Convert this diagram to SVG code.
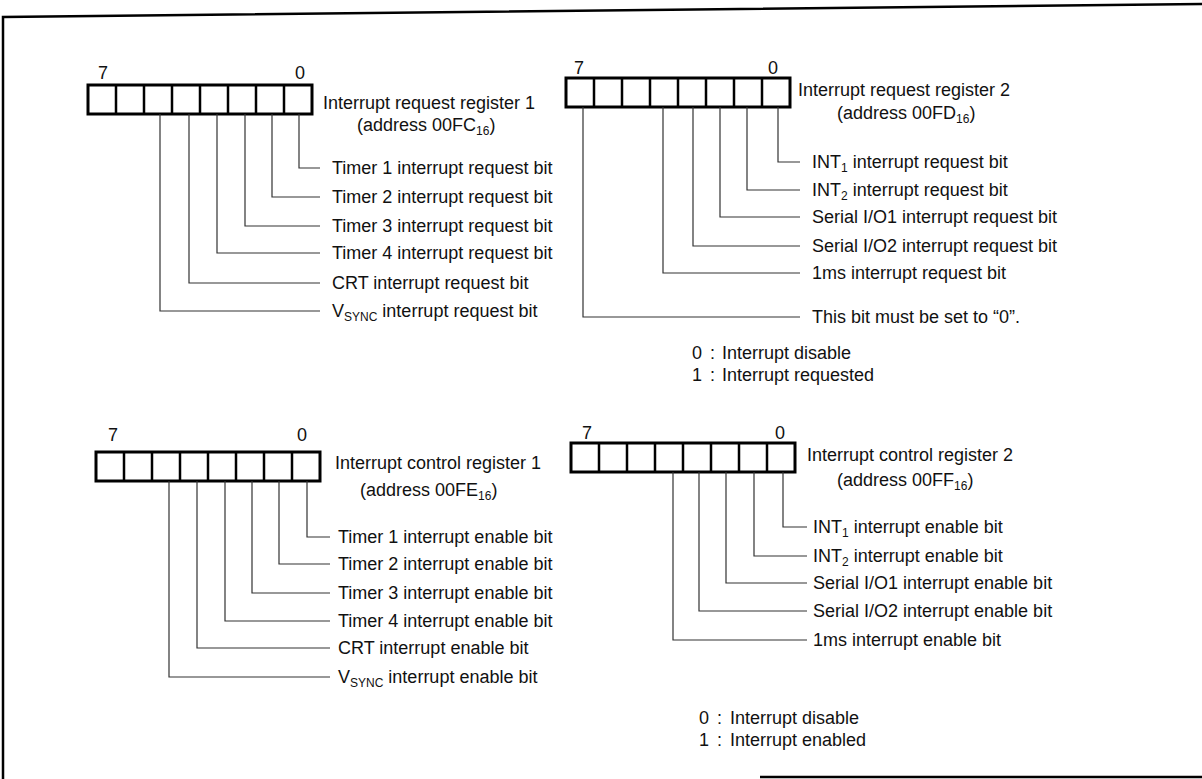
<svg xmlns="http://www.w3.org/2000/svg" width="1202" height="779" viewBox="0 0 1202 779">
<style>
text{font-family:"Liberation Sans",Arial,Helvetica,sans-serif;font-size:18px;fill:#111}
.box{fill:#fff;stroke:#000;stroke-width:3}
.div{stroke:#000;stroke-width:2.5}
.con{fill:none;stroke:#333;stroke-width:1.2}
.frame{fill:none;stroke:#000;stroke-width:2.5}
.mid{text-anchor:middle}
</style>
<defs>
<g id="cells">
<rect class="box" x="0" y="0" width="224" height="29"/>
<path class="div" d="M28,0V29M56,0V29M84,0V29M112,0V29M140,0V29M168,0V29M196,0V29"/>
</g>
</defs>
<g id="frame">
<path class="frame" d="M3,779V17L1202,4"/>
<path class="frame" d="M760,777H1202"/>
</g>

<g id="reg1">
<use href="#cells" x="88" y="85"/>
<text class="mid" x="103" y="79">7</text>
<text class="mid" x="300" y="79">0</text>
<text x="323" y="109">Interrupt request register 1</text>
<text x="357" y="131">(address 00FC<tspan font-size="12" dy="4">16</tspan><tspan dy="-4">)</tspan></text>
<text x="332" y="174">Timer 1 interrupt request bit</text>
<text x="332" y="203">Timer 2 interrupt request bit</text>
<text x="332" y="232">Timer 3 interrupt request bit</text>
<text x="332" y="259">Timer 4 interrupt request bit</text>
<text x="332" y="289">CRT interrupt request bit</text>
<text x="332" y="317">V<tspan font-size="12" dy="4">SYNC</tspan><tspan dy="-4"> interrupt request bit</tspan></text>
</g>

<g id="reg2">
<use href="#cells" x="566" y="78"/>
<text class="mid" x="579" y="74">7</text>
<text class="mid" x="773" y="74">0</text>
<text x="798" y="96">Interrupt request register 2</text>
<text x="837" y="119">(address 00FD<tspan font-size="12" dy="4">16</tspan><tspan dy="-4">)</tspan></text>
<text x="812" y="168">INT<tspan font-size="12" dy="4">1</tspan><tspan dy="-4"> interrupt request bit</tspan></text>
<text x="812" y="196">INT<tspan font-size="12" dy="4">2</tspan><tspan dy="-4"> interrupt request bit</tspan></text>
<text x="812" y="223">Serial I/O1 interrupt request bit</text>
<text x="812" y="252">Serial I/O2 interrupt request bit</text>
<text x="812" y="279">1ms interrupt request bit</text>
<text x="812" y="323">This bit must be set to “0”.</text>
<text x="692" y="359">0</text><text x="710" y="359">:</text><text x="722" y="359">Interrupt disable</text>
<text x="692" y="381">1</text><text x="710" y="381">:</text><text x="722" y="381">Interrupt requested</text>
</g>

<g id="reg3">
<use href="#cells" x="96" y="452"/>
<text class="mid" x="113" y="441">7</text>
<text class="mid" x="302" y="441">0</text>
<text x="335" y="469">Interrupt control register 1</text>
<text x="360" y="496">(address 00FE<tspan font-size="12" dy="4">16</tspan><tspan dy="-4">)</tspan></text>
<text x="338" y="543">Timer 1 interrupt enable bit</text>
<text x="338" y="570">Timer 2 interrupt enable bit</text>
<text x="338" y="599">Timer 3 interrupt enable bit</text>
<text x="338" y="627">Timer 4 interrupt enable bit</text>
<text x="338" y="654">CRT interrupt enable bit</text>
<text x="338" y="683">V<tspan font-size="12" dy="4">SYNC</tspan><tspan dy="-4"> interrupt enable bit</tspan></text>
</g>

<g id="reg4">
<use href="#cells" x="571" y="443"/>
<text class="mid" x="587" y="439">7</text>
<text class="mid" x="780" y="439">0</text>
<text x="807" y="461">Interrupt control register 2</text>
<text x="837" y="486">(address 00FF<tspan font-size="12" dy="4">16</tspan><tspan dy="-4">)</tspan></text>
<text x="813" y="533">INT<tspan font-size="12" dy="4">1</tspan><tspan dy="-4"> interrupt enable bit</tspan></text>
<text x="813" y="562">INT<tspan font-size="12" dy="4">2</tspan><tspan dy="-4"> interrupt enable bit</tspan></text>
<text x="813" y="589">Serial I/O1 interrupt enable bit</text>
<text x="813" y="617">Serial I/O2 interrupt enable bit</text>
<text x="813" y="646">1ms interrupt enable bit</text>
<text x="699" y="724">0</text><text x="717" y="724">:</text><text x="730" y="724">Interrupt disable</text>
<text x="699" y="746">1</text><text x="717" y="746">:</text><text x="730" y="746">Interrupt enabled</text>
</g>

<g id="connectors">
<path class="con" d="M299,114V168H320M272,114V197H320M245,114V226H320M217,114V253H320M189,114V283H320M160,114V311H320"/>
<path class="con" d="M778,107V162H800M747,107V190H800M720,107V217H800M693,107V246H800M663,107V273H800M583,107V317H800"/>
<path class="con" d="M307,481V537H330M279,481V564H330M252,481V593H330M225,481V621H330M197,481V648H330M169,481V677H330"/>
<path class="con" d="M783,472V527H807M754,472V556H807M726,472V583H807M699,472V611H807M673,472V640H807"/>
</g>
</svg>
